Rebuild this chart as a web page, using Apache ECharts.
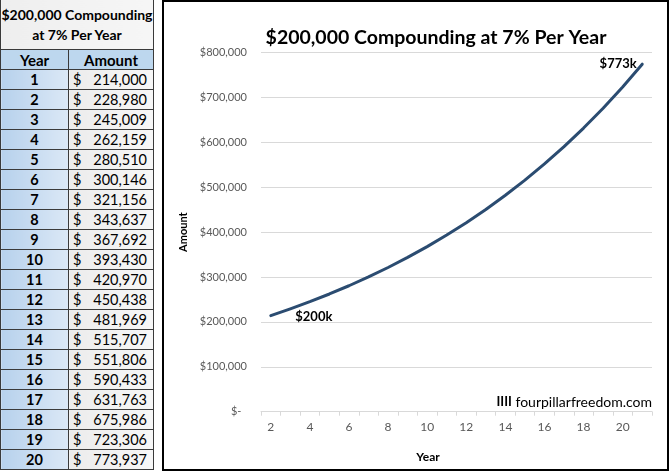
<!DOCTYPE html>
<html>
<head>
<meta charset="utf-8">
<script src="https://cdn.jsdelivr.net/npm/echarts@6/dist/echarts.min.js"></script>
<style>
  html, body { margin: 0; padding: 0; background: #fff; width: 670px; height: 473px; overflow: hidden; }
  #tbl { position: absolute; left: 0; top: 0; border-collapse: collapse; table-layout: fixed; font-family: Lato, "Liberation Sans", sans-serif; font-size: 14px; color: #000; }
  #tbl td { border: 1px solid #3a3a3a; padding: 0; }
  #tbl .ttl { background: linear-gradient(to right, #eeeeee, #f6f6f6); font-weight: bold; text-align: center; line-height: 20px; height: 49px; border-top: none; }
  #tbl .hdr { background: #bdd7ee; font-weight: bold; text-align: center; height: 19px; font-size: 15px; }
  #tbl .yr { background: linear-gradient(to right, #b7d1ec, #dbe8f6); font-weight: bold; text-align: center; height: 19px; font-size: 14.5px; }
  #tbl .amt { background: linear-gradient(to right, #ececec, #f7f7f7); height: 19px; font-size: 14.5px; }
  .amtwrap { display: flex; justify-content: space-between; padding: 0 6px 0 4px; }
  #box { position: absolute; left: 162px; top: 0px; width: 503px; height: 467px; border: 2px solid #000; }
  #chart { position: absolute; left: 164px; top: 2px; width: 503px; height: 467px; }
</style>
</head>
<body>
<table id="tbl"></table>
<div id="box"></div>
<div id="chart"></div>
<script>
// ---- data ----
var titleText = '$200,000 Compounding at 7% Per Year';
var tableTitleLines = ['$200,000 Compounding', 'at 7% Per Year'];
var tableHeaders = ['Year', 'Amount'];
var years = [1, 2, 3, 4, 5, 6, 7, 8, 9, 10, 11, 12, 13, 14, 15, 16, 17, 18, 19, 20];
var amounts = [214000, 228980, 245009, 262159, 280510, 300146, 321156, 343637, 367692, 393430,
               420970, 450438, 481969, 515707, 551806, 590433, 631763, 675986, 723306, 773937];
var xCategories = ['2', '3', '4', '5', '6', '7', '8', '9', '10', '11', '12', '13', '14', '15', '16', '17', '18', '19', '20', '21'];
var xTickLabels = ['2', '4', '6', '8', '10', '12', '14', '16', '18', '20'];
var yTicks = [0, 100000, 200000, 300000, 400000, 500000, 600000, 700000, 800000];
var startLabel = '$200k';
var endLabel = '$773k';
var watermarkMark = 'IIII';
var watermarkText = ' fourpillarfreedom.com';

// ---- table ----
function fmt(n) { return n.toLocaleString('en-US'); }
var tbl = document.getElementById('tbl');
var html = '<colgroup><col style="width:68px"><col style="width:85px"></colgroup>';
html += '<tr><td class="ttl" colspan="2">' + tableTitleLines.join('<br>') + '</td></tr>';
html += '<tr><td class="hdr">' + tableHeaders[0] + '</td><td class="hdr">' + tableHeaders[1] + '</td></tr>';
for (var i = 0; i < years.length; i++) {
  html += '<tr><td class="yr">' + years[i] + '</td><td class="amt"><div class="amtwrap"><span>$</span><span>' + fmt(amounts[i]) + '</span></div></td></tr>';
}
tbl.innerHTML = html;

// ---- chart ----
var FONT = 'Lato, "Liberation Sans", sans-serif';
var chart = echarts.init(document.getElementById('chart'), null, { renderer: 'canvas' });
var labelStyle = { fontFamily: FONT, fontWeight: 'bold', fontSize: 13, color: '#000' };
var seriesData = amounts.map(function (v, i) {
  var d = { value: v };
  if (i === 0) {
    d.label = Object.assign({ show: true, formatter: startLabel, position: 'right', distance: 24, offset: [0, 1] }, labelStyle);
  } else if (i === amounts.length - 1) {
    d.label = Object.assign({ show: true, formatter: endLabel, position: 'left', distance: 5, offset: [0, 0] }, labelStyle);
  }
  return d;
});
var option = {
  animation: false,
  title: {
    text: titleText,
    left: 267, top: 21, textAlign: 'center',
    textStyle: { fontFamily: FONT, fontWeight: 'bold', fontSize: 19.5, color: '#000' }
  },
  grid: { left: 97, right: 15, top: 50.5, bottom: 57.3, containLabel: false },
  xAxis: {
    type: 'category',
    data: xCategories,
    boundaryGap: true,
    name: 'Year',
    nameLocation: 'middle',
    nameGap: 39,
    nameTextStyle: { fontFamily: FONT, fontWeight: 'bold', fontSize: 12, color: '#000', padding: [0, 57, 0, 0] },
    axisLine: { lineStyle: { color: '#d9d9d9', width: 1 } },
    axisTick: { show: true, alignWithLabel: false, interval: 0, length: 4, lineStyle: { color: '#d9d9d9' } },
    axisLabel: {
      interval: 0, margin: 9,
      fontFamily: FONT, fontSize: 12, color: '#595959',
      formatter: function (v) { return xTickLabels.indexOf(v) >= 0 ? v : ''; }
    },
    splitLine: { show: false }
  },
  yAxis: {
    type: 'value',
    min: 0, max: 800000, interval: 100000,
    name: 'Amount',
    nameLocation: 'middle',
    nameGap: 71,
    nameRotate: 90,
    nameTextStyle: { fontFamily: FONT, fontWeight: 'bold', fontSize: 11, color: '#000' },
    axisLine: { show: false },
    axisTick: { show: false },
    axisLabel: {
      margin: 14,
      fontFamily: FONT, fontSize: 11, color: '#595959',
      formatter: function (v) {
        if (yTicks.indexOf(v) < 0) return '';
        return v === 0 ? '$-  ' : '$' + fmt(v);
      }
    },
    splitLine: { lineStyle: { color: '#d9d9d9', width: 1 } }
  },
  series: [{
    type: 'line',
    data: seriesData,
    smooth: false,
    symbol: 'circle',
    symbolSize: 1,
    showSymbol: true,
    itemStyle: { color: '#2b4c71' },
    lineStyle: { color: '#2b4c71', width: 3, cap: 'round', join: 'round' },
    label: { show: false }
  }],
  graphic: [{
    type: 'text',
    right: 15, top: 393,
    style: {
      text: '{b|' + watermarkMark + '}{n|' + watermarkText + '}',
      rich: {
        b: { fontFamily: FONT, fontWeight: 'bold', fontSize: 13, fill: '#000' },
        n: { fontFamily: FONT, fontSize: 14, fill: '#000' }
      }
    }
  }]
};
chart.setOption(option);
</script>
</body>
</html>
